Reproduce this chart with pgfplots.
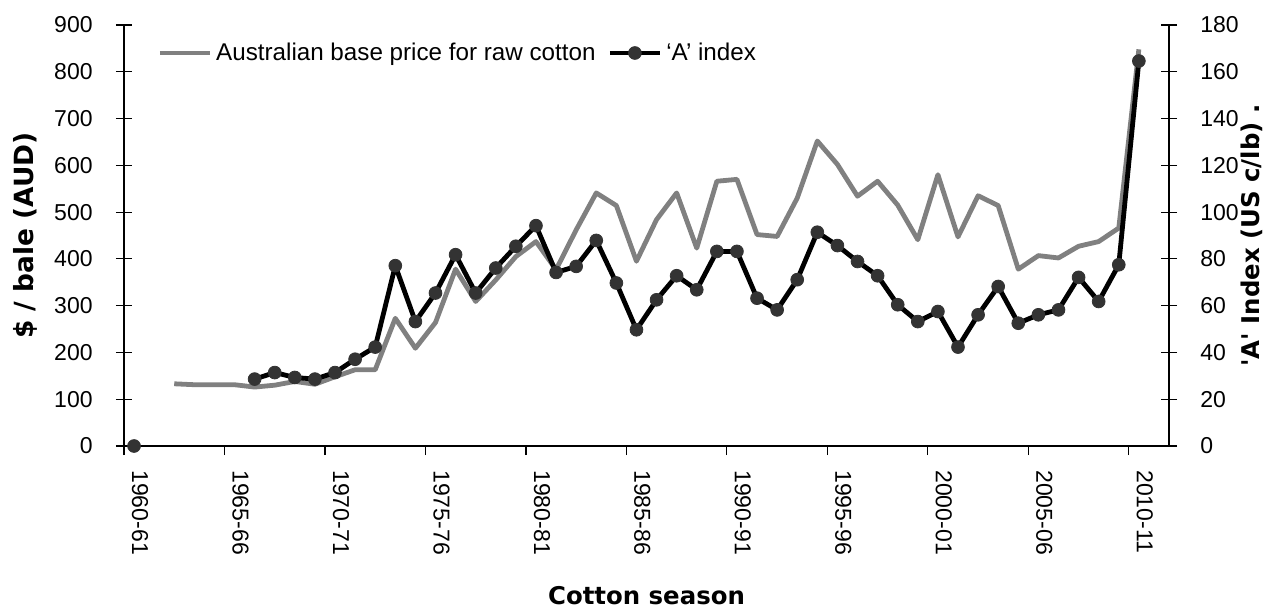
\documentclass[border=0pt]{standalone}
\usepackage{fontspec}
\setmainfont{Liberation Sans}
\newfontfamily\titlefont{DejaVu Sans}[Ligatures=TeXOff]
\usepackage{pgfplots}
\pgfplotsset{compat=1.18}
\definecolor{pricegrey}{RGB}{128,128,128}
\definecolor{dotgrey}{RGB}{51,51,51}

\pgfplotsset{
  cotton/.style={
    scale only axis, width=522.5pt, height=210.5pt,
    xmin=-0.5, xmax=51.5,
    axis line style={-, line width=0.6pt},
    tick style={black, line width=0.6pt},
    ticklabel style={font=\fontsize{11.5}{13}\selectfont},
    /pgf/number format/assume math mode=true,
    label style={font=\titlefont\bfseries\fontsize{12.2}{14}\selectfont},
  }
}

\begin{document}
\begin{tikzpicture}
\path[use as bounding box] (-62pt,-82.5pt) rectangle (569.5pt,223pt);

% x axis: ticks between categories, labels on every fifth season
\begin{axis}[cotton,
  axis y line=none, axis x line*=bottom,
  ymin=0, ymax=900,
  xtick={-0.5,4.5,...,49.5},
  xticklabels={1960-61,1965-66,1970-71,1975-76,1980-81,1985-86,1990-91,1995-96,2000-01,2005-06,2010-11},
  tick align=outside, major tick length=4.5pt,
  xticklabel style={xshift=8pt, rotate=-90, anchor=west, inner sep=0pt},
  xticklabel shift=7.5pt,
  xlabel={Cotton season},
  xlabel style={at={([yshift=-75pt]axis description cs:0.5,0)}, anchor=center},
]
\addplot[draw=none] coordinates {(0,0)};
\end{axis}

% left axis: Australian base price
\begin{axis}[cotton,
  axis x line=none, axis y line*=left,
  ymin=0, ymax=900, ytick={0,100,...,900},
  tick align=center, major tick length=8pt,
  yticklabel style={anchor=east, inner sep=0pt},
  yticklabel shift=11.5pt,
  ylabel={\$ / bale (AUD)},
  ylabel style={at={([xshift=-49.5pt]axis description cs:0,0.5)}, anchor=center,
    font=\titlefont\bfseries\fontsize{13.2}{15}\selectfont},
]
\addplot[pricegrey, line width=2.4pt, line join=round, no marks] coordinates {
  (2,133) (3,131) (4,131) (5,131) (6,126) (7,130) (8,138) (9,132) (10,148)
  (11,163) (12,163) (13,273) (14,209) (15,264) (16,378) (17,309) (18,355)
  (19,405) (20,437) (21,377) (22,462) (23,541) (24,514) (25,395) (26,484)
  (27,541) (28,423) (29,566) (30,570) (31,452) (32,448) (33,530) (34,652)
  (35,602) (36,534) (37,566) (38,515) (39,441) (40,580) (41,447) (42,535)
  (43,514) (44,378) (45,407) (46,402) (47,427) (48,437) (49,466) (50,848)
};
\end{axis}

% right axis: 'A' index
\begin{axis}[cotton,
  axis x line=none, axis y line*=right,
  ymin=0, ymax=180, ytick={0,20,...,180},
  tick align=center, major tick length=8pt,
  yticklabel style={anchor=west, inner sep=0pt},
  yticklabel shift=11.5pt,
  ylabel={'A' Index (US c/lb) .},
  ylabel style={at={([xshift=41.5pt]axis description cs:1,0.5)}, anchor=center,
    font=\titlefont\bfseries\fontsize{12.2}{15}\selectfont},
  clip=false,
  legend columns=2,
  legend cell align=left,
  legend style={at={([xshift=16.5pt,yshift=-14pt]axis description cs:0,1)},
    anchor=west, draw=none, fill=none, inner sep=0pt,
    font=\fontsize{12.1}{14}\selectfont,
    /tikz/every even column/.append style={column sep=4pt}},
  legend image code/.code={\draw[mark repeat=2,mark phase=2,#1] plot coordinates {(0pt,0pt) (12.5pt,0pt) (25pt,0pt)};},
]
\addlegendimage{pricegrey, line width=2.4pt}
\addlegendentry{Australian base price for raw cotton}
\addplot[black, line width=2.4pt, line join=round, mark=*, mark size=3.2pt,
  mark options={fill=dotgrey, draw=dotgrey, line width=0.4pt}, unbounded coords=jump] coordinates {
  (0,0) (1,nan)
  (6,28.6) (7,31.4) (8,29.3) (9,28.6) (10,31.4) (11,37.1) (12,42.3) (13,77.1)
  (14,53.2) (15,65.4) (16,81.8) (17,65.4) (18,76.1) (19,85.4) (20,94.2)
  (21,74.2) (22,76.8) (23,87.9) (24,69.7) (25,49.7) (26,62.5) (27,72.8)
  (28,66.8) (29,83.2) (30,83.2) (31,63.2) (32,58.2) (33,71.1) (34,91.4)
  (35,85.7) (36,78.9) (37,72.8) (38,60.4) (39,53.2) (40,57.5) (41,42.3)
  (42,56.1) (43,68.2) (44,52.5) (45,56.1) (46,58.2) (47,72.1) (48,61.8)
  (49,77.5) (50,164.6)
};
\addlegendentry{‘A’ index}
\end{axis}
\end{tikzpicture}
\end{document}
